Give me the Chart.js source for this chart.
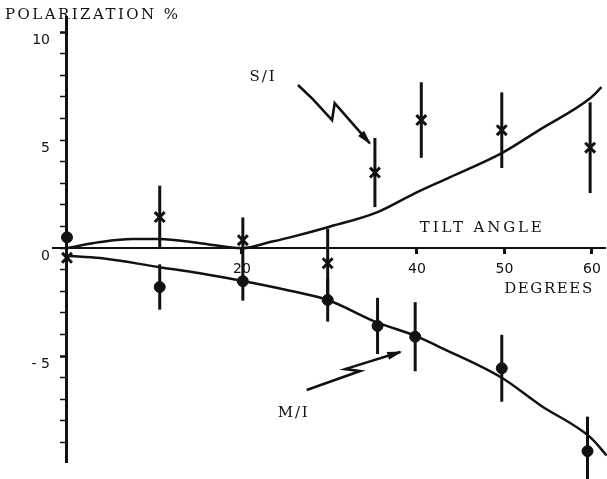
<!DOCTYPE html>
<html>
<head>
<meta charset="utf-8">
<script src="https://cdn.jsdelivr.net/npm/chart.js@4.4.1/dist/chart.umd.min.js"></script>
<style>
  html, body { margin: 0; padding: 0; background: #fff; }
  #wrap { width: 607px; height: 479px; }
</style>
</head>
<body>
<div id="wrap"><canvas id="c" width="607" height="479"></canvas></div>
<script>
// S/I measurements (tilt angle in degrees, polarization %, error half-length)
const siAngle = [0, 10.6, 20.1, 29.8, 35.2, 40.5, 49.7, 59.8];
const siValue = [-0.45, 1.44, 0.37, -0.7, 3.5, 5.93, 5.46, 4.65];
const siError = [0, 1.45, 1.05, 1.6, 1.6, 1.75, 1.75, 2.1];

// M/I measurements
const miAngle = [0, 10.6, 20.1, 29.8, 35.5, 39.8, 49.7, 59.5];
const miValue = [0.5, -1.8, -1.53, -2.4, -3.6, -4.1, -5.56, -9.4];
const miError = [0, 1.05, 0.9, 1.0, 1.3, 1.6, 1.55, 1.6];

// Smooth fitted curves through the two series
const siFitAngle = [0, 3.8, 7.5, 10.6, 15.2, 20.1, 23.2, 25.5, 29.8, 35.5, 39.8, 43.8, 49.7, 54.1, 59.8, 61.1];
const siFitValue = [0, 0.28, 0.42, 0.42, 0.23, 0, 0.28, 0.5, 0.97, 1.67, 2.55, 3.29, 4.4, 5.5, 6.94, 7.45];
const miFitAngle = [0, 3.8, 10.6, 15.2, 20.1, 25.5, 29.8, 35.5, 39.8, 42.6, 49.7, 54.1, 59.8, 61.7];
const miFitValue = [-0.35, -0.46, -0.88, -1.16, -1.52, -1.97, -2.4, -3.45, -4.05, -4.58, -6.0, -7.27, -8.75, -9.6];

// Labelled ticks
const angleTicks = [20, 40, 50, 60];
const polarTicks = [10, 5, 0, -5];

const pts = (xs, ys) => xs.map((x, i) => ({ x: x, y: ys[i] }));

const INK = '#111';
const SERIF = '"DejaVu Serif", "Liberation Serif", serif';
const NUMFONT = '"DejaVu Sans", "Liberation Sans", sans-serif';
const Y_MIN = -9.9, Y_MAX = 10.7;

// Vertical error bars drawn through the chart's own scales
const errorBars = {
  id: 'errorBars',
  beforeDatasetsDraw(chart) {
    const { ctx, scales: { x, y } } = chart;
    ctx.save();
    ctx.strokeStyle = INK;
    ctx.lineWidth = 3;
    ctx.lineCap = 'butt';
    const draw = (xs, vs, es) => xs.forEach((a, i) => {
      if (!es[i]) return;
      const px = x.getPixelForValue(a);
      ctx.beginPath();
      ctx.moveTo(px, y.getPixelForValue(vs[i] + es[i]));
      ctx.lineTo(px, y.getPixelForValue(vs[i] - es[i]));
      ctx.stroke();
    });
    draw(siAngle, siValue, siError);
    draw(miAngle, miValue, miError);
    ctx.restore();
  }
};

// Titles, series labels and pointer arrows
const notes = {
  id: 'notes',
  afterDraw(chart) {
    const { ctx, scales: { x, y } } = chart;
    const P = (a, v) => [x.getPixelForValue(a), y.getPixelForValue(v)];

    const text = (str, a, v, width, size) => {
      const [cx, cy] = P(a, v);
      ctx.save();
      ctx.font = size + 'px ' + SERIF;
      ctx.fillStyle = INK;
      ctx.textBaseline = 'middle';
      ctx.textAlign = 'left';
      ctx.letterSpacing = '0px';
      const w = ctx.measureText(str).width;
      const n = str.length;
      const sp = n > 1 ? (width - w) / (n - 1) : 0;
      ctx.letterSpacing = sp.toFixed(2) + 'px';
      ctx.fillText(str, cx - width / 2, cy);
      ctx.restore();
    };

    const arrow = (path) => {
      const p = path.map(q => P(q[0], q[1]));
      ctx.save();
      ctx.strokeStyle = INK;
      ctx.fillStyle = INK;
      ctx.lineWidth = 2.6;
      ctx.lineJoin = 'miter';
      ctx.beginPath();
      ctx.moveTo(p[0][0], p[0][1]);
      for (let i = 1; i < p.length; i++) ctx.lineTo(p[i][0], p[i][1]);
      ctx.stroke();
      const [x1, y1] = p[p.length - 2];
      const [x2, y2] = p[p.length - 1];
      const ang = Math.atan2(y2 - y1, x2 - x1);
      const L = 13, H = 4;
      ctx.beginPath();
      ctx.moveTo(x2 + 2 * Math.cos(ang), y2 + 2 * Math.sin(ang));
      ctx.lineTo(x2 - L * Math.cos(ang) - H * Math.sin(ang), y2 - L * Math.sin(ang) + H * Math.cos(ang));
      ctx.lineTo(x2 - L * Math.cos(ang) + H * Math.sin(ang), y2 - L * Math.sin(ang) - H * Math.cos(ang));
      ctx.closePath();
      ctx.fill();
      ctx.restore();
    };

    text('POLARIZATION %', 2.8, 10.8, 173, 15);
    text('TILT ANGLE', 47.3, 0.93, 122, 15);
    text('DEGREES', 55.0, -1.9, 88, 15);
    text('S/I', 22.3, 7.92, 25, 15);
    text('M/I', 25.8, -7.64, 30, 15);

    arrow([[26.4, 7.55], [28.1, 6.9], [30.3, 5.93], [30.6, 6.71], [34.6, 4.86]]);
    arrow([[27.4, -6.57], [33.5, -5.69], [31.8, -5.6], [38.1, -4.81]]);
  }
};

const intTicks = s => {
  const t = [];
  for (let v = -9; v <= 10; v++) t.push({ value: v });
  s.ticks = t;
};

new Chart(document.getElementById('c'), {
  type: 'scatter',
  data: {
    datasets: [
      {
        label: 'S/I fit',
        type: 'line',
        data: pts(siFitAngle, siFitValue),
        borderColor: INK,
        borderWidth: 2.5,
        pointRadius: 0,
        cubicInterpolationMode: 'monotone',
        fill: false,
        clip: false
      },
      {
        label: 'M/I fit',
        type: 'line',
        data: pts(miFitAngle, miFitValue),
        borderColor: INK,
        borderWidth: 2.5,
        pointRadius: 0,
        cubicInterpolationMode: 'monotone',
        fill: false,
        clip: false
      },
      {
        label: 'S/I',
        data: pts(siAngle, siValue),
        pointStyle: 'crossRot',
        pointRadius: 7,
        borderColor: INK,
        borderWidth: 3,
        clip: false
      },
      {
        label: 'M/I',
        data: pts(miAngle, miValue),
        pointStyle: 'circle',
        pointRadius: 5.5,
        backgroundColor: INK,
        borderColor: INK,
        borderWidth: 1,
        clip: false
      }
    ]
  },
  options: {
    responsive: false,
    animation: false,
    events: [],
    layout: { autoPadding: false, padding: { left: 0, right: 2, top: 17, bottom: 17 } },
    plugins: { legend: { display: false }, tooltip: { enabled: false } },
    scales: {
      x: {
        type: 'linear',
        min: -1.6,
        max: 61.5,
        position: { y: 0 },
        afterBuildTicks: s => { s.ticks = angleTicks.map(v => ({ value: v })); },
        afterFit: s => { s.paddingLeft = 0; s.paddingRight = 0; },
        ticks: {
          color: INK,
          font: { family: NUMFONT, size: 14 },
          padding: 8,
          maxRotation: 0,
          callback: v => String(v)
        },
        grid: { drawOnChartArea: false, drawTicks: true, tickLength: 5, tickWidth: 3, tickColor: INK },
        border: { display: true, color: INK, width: 2 }
      },
      // vertical axis line and its tick marks, crossing at zero tilt
      y: {
        type: 'linear',
        min: Y_MIN,
        max: Y_MAX,
        position: { x: 0 },
        afterBuildTicks: intTicks,
        ticks: { display: false },
        grid: {
          drawOnChartArea: false,
          drawTicks: true,
          tickLength: 5,
          tickColor: INK,
          tickWidth: c => (c.tick && (c.tick.value === 10 || c.tick.value === -5)) ? 2.5 : 1.5
        },
        border: { display: true, color: INK, width: 3 }
      },
      // labels for the polarization values, set in the left margin
      yLabels: {
        type: 'linear',
        axis: 'y',
        min: Y_MIN,
        max: Y_MAX,
        position: 'left',
        afterBuildTicks: s => { s.ticks = polarTicks.map(v => ({ value: v })); },
        afterFit: s => { s.width = 53; },
        ticks: {
          color: INK,
          font: { family: NUMFONT, size: 14 },
          padding: 3,
          labelOffset: 8,
          callback: v => v === -5 ? '- 5' : String(v)
        },
        grid: { display: false, drawTicks: false },
        border: { display: false }
      }
    }
  },
  plugins: [errorBars, notes]
});
</script>
</body>
</html>
